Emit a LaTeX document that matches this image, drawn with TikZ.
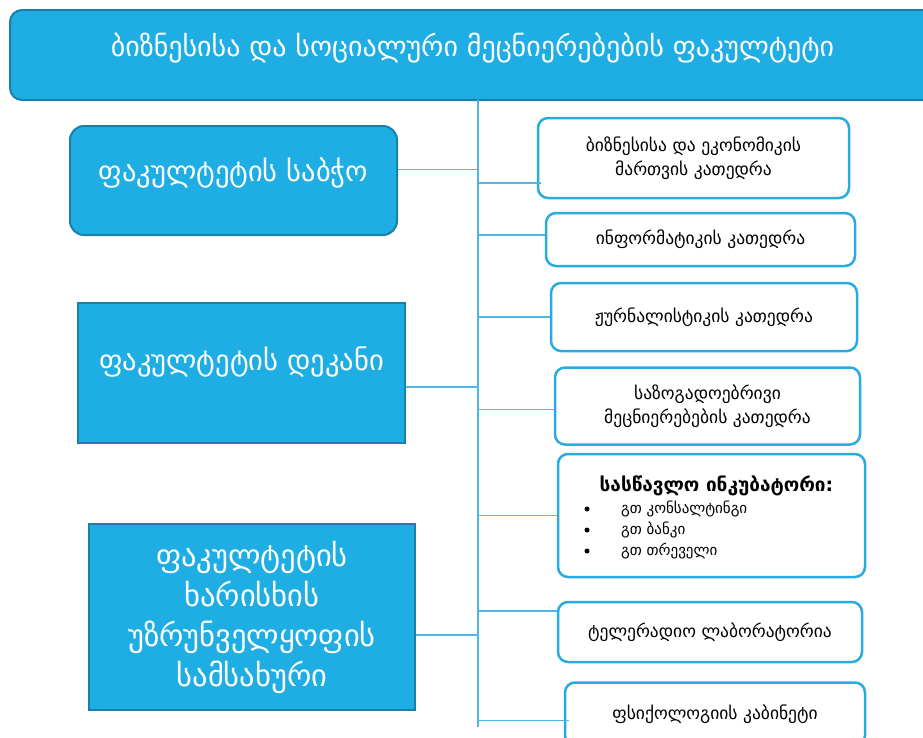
\documentclass[tikz,border=0pt]{standalone}
\usepackage{fontspec}
\setmainfont{DejaVu Sans}
\definecolor{boxblue}{RGB}{31,174,228}
\definecolor{boxedge}{RGB}{24,128,170}
\definecolor{lineblue}{RGB}{41,171,226}
\definecolor{connblue}{RGB}{80,182,230}
\tikzset{
  x=1pt, y=-1pt,
  topbox/.style={draw=boxedge, line width=2pt, fill=boxblue, rounded corners=12pt, text=white, align=center, inner sep=0pt},
  leftbox/.style={draw=boxedge, line width=2pt, fill=boxblue, text=white, align=center, inner sep=0pt},
  rightbox/.style={draw=lineblue, line width=2.5pt, fill=white, rounded corners=10pt, text=black, align=center, inner sep=0pt},
  conn/.style={draw=connblue, line width=1.5pt},
  bigtxt/.style={font=\fontsize{28.5}{40}\selectfont},
  smalltxt/.style={font=\fontsize{17.5}{24}\selectfont},
}
\begin{document}
\begin{tikzpicture}
\useasboundingbox (0,0) rectangle (923,737);
% top box
\node[topbox, minimum width=925pt, minimum height=90pt, font=\fontsize{28}{32}\selectfont, text depth=20pt] (top) at (472.5,55) {ბიზნესისა და სოციალური მეცნიერებების ფაკულტეტი};
% spine
\coordinate (vtop) at (478,100);
\coordinate (vbot) at (478,727);
\draw[conn] (vtop) -- (vbot);
% left boxes
\node[leftbox, rounded corners=14pt, minimum width=327pt, minimum height=109pt, bigtxt, text depth=22pt] (council) at (233.5,180.5) {ფაკულტეტის საბჭო};
\node[leftbox, minimum width=327pt, minimum height=140pt, bigtxt, text depth=28pt] (dean) at (241.5,373) {ფაკულტეტის დეკანი};
\node[leftbox, minimum width=326pt, minimum height=186pt, font=\fontsize{30.5}{40}\selectfont] (qa) at (252,617) {ფაკულტეტის\\ხარისხის\\უზრუნველყოფის\\სამსახური};
% right boxes
\node[rightbox, minimum width=311pt, minimum height=80pt, smalltxt] (r1) at (693.5,158) {ბიზნესისა და ეკონომიკის\\მართვის კათედრა};
\node[rightbox, minimum width=309pt, minimum height=53pt, smalltxt] (r2) at (700.5,239.5) {ინფორმატიკის კათედრა};
\node[rightbox, minimum width=306pt, minimum height=68pt, smalltxt] (r3) at (704,317) {ჟურნალისტიკის კათედრა};
\node[rightbox, minimum width=305pt, minimum height=77pt, smalltxt] (r4) at (707.5,406) {საზოგადოებრივი\\მეცნიერებების კათედრა};
\node[rightbox, minimum width=307pt, minimum height=123pt] (r5) at (711.5,515.5) {};
\node[font=\bfseries\fontsize{19}{22}\selectfont, inner sep=0pt] (r5t) at (716.5,486) {სასწავლო ინკუბატორი:};
\foreach \i/\t in {0/გთ კონსალტინგი,1/გთ ბანკი,2/გთ თრეველი}{
  \node[circle, fill=black, inner sep=0pt, minimum size=5pt] (b\i) at (587,509+21*\i) {};
  \node[font=\fontsize{15}{17}\selectfont, inner sep=0pt, anchor=west] (bt\i) at (621,509+21*\i) {\t};
}
\node[rightbox, minimum width=304pt, minimum height=60pt, smalltxt] (r6) at (710,632) {ტელერადიო ლაბორატორია};
\node[rightbox, minimum width=300pt, minimum height=63pt, smalltxt, text depth=4pt] (r7) at (715,714) {ფსიქოლოგიის კაბინეტი};
% connectors left
\draw[conn] ([yshift=11pt]council.east) -- ([yshift=11pt]council.east -| vtop);
\draw[conn] ([yshift=-14pt]dean.east) -- ([yshift=-14pt]dean.east -| vtop);
\draw[conn] ([yshift=-18pt]qa.east) -- ([yshift=-18pt]qa.east -| vtop);
% connectors right
\draw[conn] ([yshift=-25pt]r1.west -| vtop) -- ([yshift=-25pt,xshift=4pt]r1.west);
\draw[conn] ([yshift=4.5pt]r2.west -| vtop) -- ([yshift=4.5pt]r2.west);
\draw[conn] (r3.west -| vtop) -- (r3.west);
\draw[conn] ([yshift=-3.5pt]r4.west -| vtop) -- ([yshift=-3.5pt]r4.west);
\draw[conn] (r5.west -| vtop) -- (r5.west);
\draw[conn] ([yshift=21pt]r6.west -| vtop) -- ([yshift=21pt]r6.west);
\draw[conn] ([yshift=-6.5pt]r7.west -| vtop) -- ([yshift=-6.5pt,xshift=5pt]r7.west);
\end{tikzpicture}
\end{document}
